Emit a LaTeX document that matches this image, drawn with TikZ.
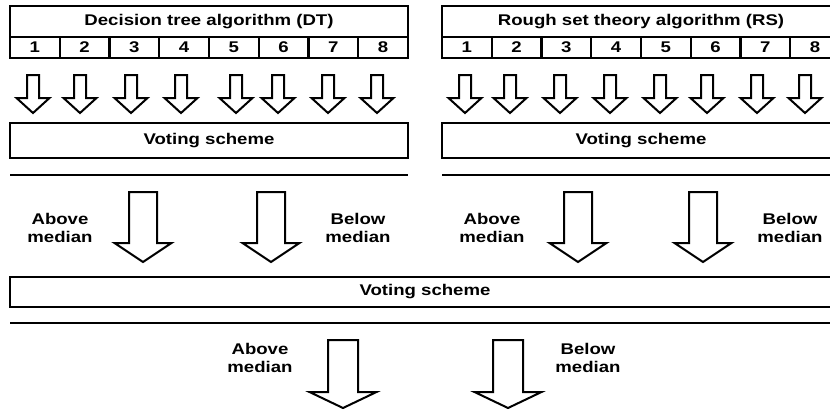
\documentclass[tikz,border=0pt]{standalone}
\usepackage{fontspec}
\setmainfont{Liberation Sans}[FakeStretch=1.2]
\usetikzlibrary{positioning}

% hollow down arrow: x, top, head base, tip, half shaft, half head
\newcommand{\downblock}[6]{%
  \draw[blockarrow] (#1-#5,#2) -- (#1+#5,#2) -- (#1+#5,#3) -- (#1+#6,#3)
    -- (#1,#4) -- (#1-#6,#3) -- (#1-#5,#3) -- cycle;}

\begin{document}
\begin{tikzpicture}
[x=1pt,y=-1pt,
 box/.style={draw,line width=2.2pt,inner sep=0pt,font=\bfseries\fontsize{15.5}{17}\selectfont},
 cell/.style={box,minimum width=49.75pt,minimum height=21pt},
 side/.style={align=center,inner sep=0pt,font=\bfseries\fontsize{15.5}{17.5}\selectfont},
 rule/.style={line width=2.8pt},
 blockarrow/.style={draw,line width=2pt,line join=miter,fill=white}]
\clip (0,0) rectangle (830,410);

% decision tree block
\node[box,minimum width=398pt,minimum height=31pt] (dt) at (209,21.5) {Decision tree algorithm (DT)};
\foreach \i in {1,...,8}
  \node[cell] (dt\i) at (49.75*\i-14.875,47.5) {\i};
\foreach \x in {33,80,131,181,236,278,328,377}
  {\downblock{\x}{75}{98}{113}{6}{16.5}}
\node[box,minimum width=398pt,minimum height=35pt] (dtvote) at (209,140.5) {Voting scheme};
\draw[rule] (10,175) -- (408,175);

% rough set block
\node[box,minimum width=398pt,minimum height=31pt] (rs) at (641,21.5) {Rough set theory algorithm (RS)};
\foreach \i in {1,...,8}
  \node[cell] (rs\i) at (49.75*\i+417.125,47.5) {\i};
\foreach \x in {465,510,560,610,660,707,757,805}
  {\downblock{\x}{75}{98}{113}{6}{16.5}}
\node[box,minimum width=398pt,minimum height=35pt] (rsvote) at (641,140.5) {Voting scheme};
\draw[rule] (442,175) -- (840,175);

% split by median
\node[side] (dtabove) at (60,228) {Above\\median};
\node[side] (dtbelow) at (358,228) {Below\\median};
\node[side] (rsabove) at (492,228) {Above\\median};
\node[side] (rsbelow) at (790,228) {Below\\median};
\foreach \x in {143,271,578,703}
  {\downblock{\x}{192}{243}{262}{14}{28.5}}

% final vote
\node[box,minimum width=830pt,minimum height=30pt] (vote) at (425,292) {Voting scheme};
\draw[rule] (10,323) -- (840,323);
\node[side] (above) at (260,358) {Above\\median};
\node[side] (below) at (588,358) {Below\\median};
\downblock{343}{340}{392}{408}{15}{33.5}
\downblock{508}{340}{392}{408}{15}{33.5}
\end{tikzpicture}
\end{document}
